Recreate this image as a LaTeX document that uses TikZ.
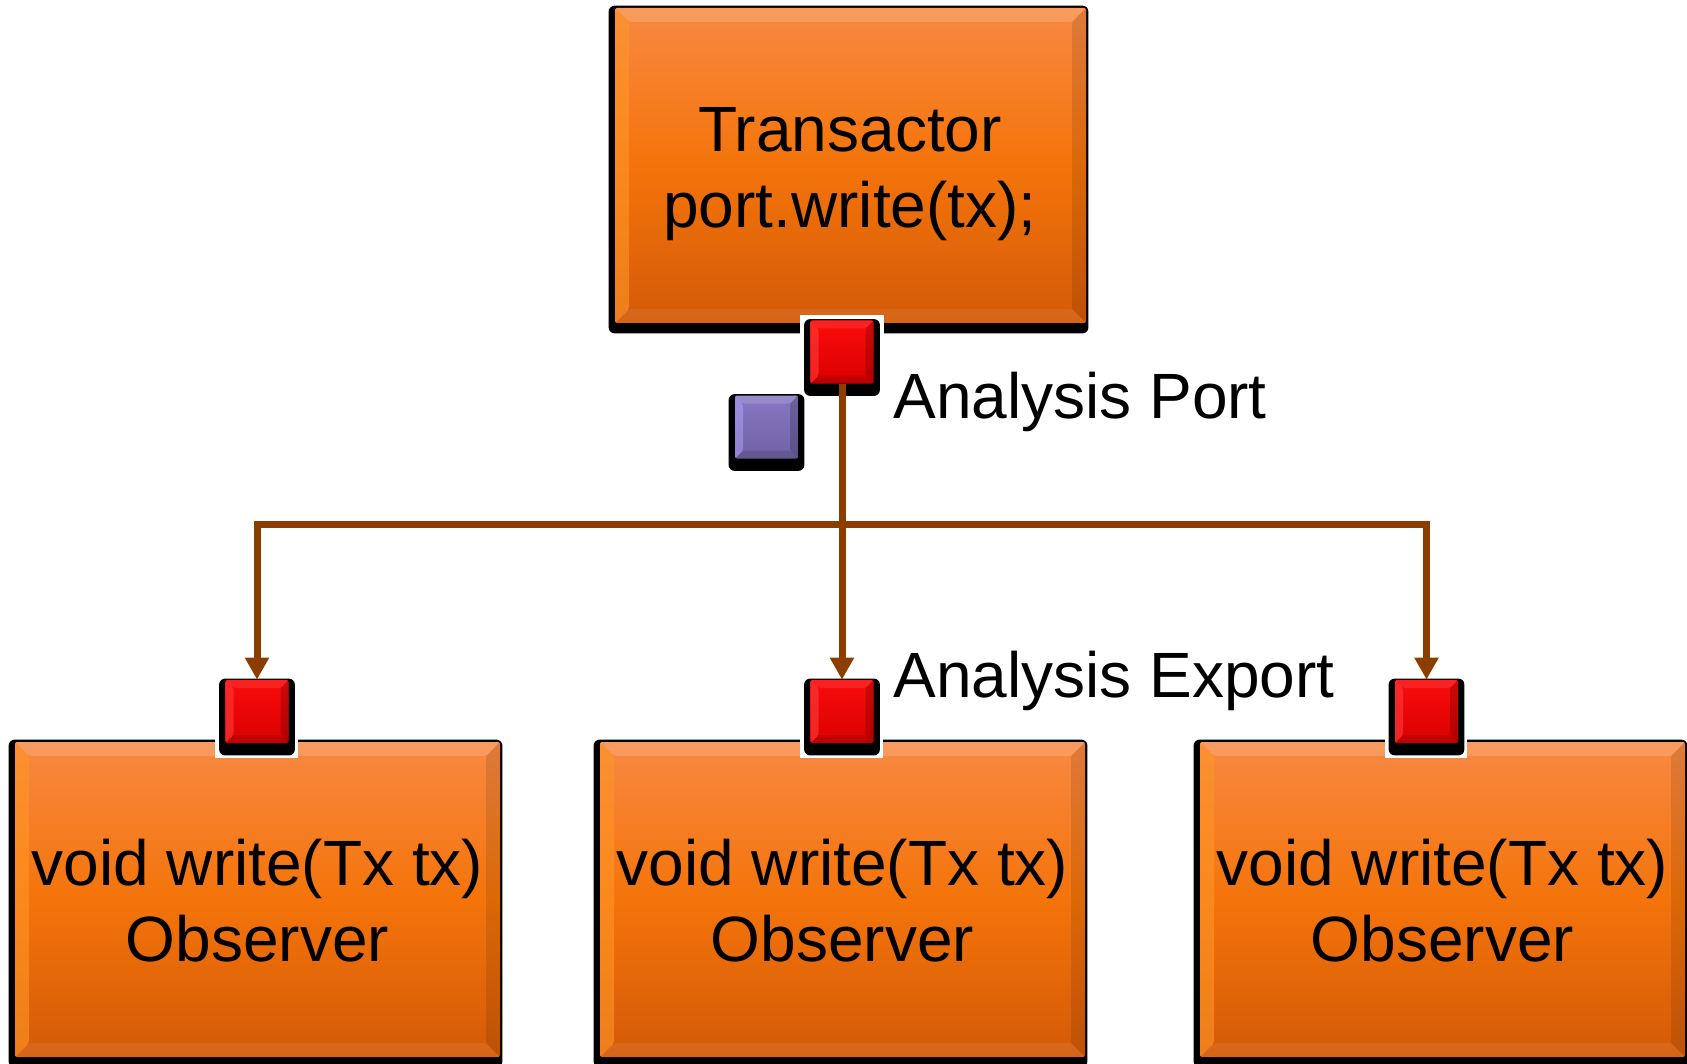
\documentclass[tikz,border=0pt]{standalone}
\usepackage{fontspec}
\setmainfont{Liberation Sans}
\usetikzlibrary{arrows.meta}

\definecolor{boxtop}{RGB}{248,136,66}
\definecolor{boxmid}{RGB}{244,116,10}
\definecolor{boxbot}{RGB}{212,90,8}
\definecolor{boxedge}{RGB}{255,150,40}
\definecolor{redtop}{RGB}{250,12,12}
\definecolor{redbot}{RGB}{218,0,0}
\definecolor{redlight}{RGB}{255,60,60}
\definecolor{purptop}{RGB}{135,120,195}
\definecolor{purpbot}{RGB}{112,98,165}
\definecolor{purplight}{RGB}{170,155,240}
\definecolor{wirebrown}{RGB}{140,62,0}

\pgfdeclarelayer{back}
\pgfdeclarelayer{cut}
\pgfdeclarelayer{pshadow}
\pgfdeclarelayer{front}
\pgfsetlayers{back,main,cut,pshadow,front}

\tikzset{
  % raised edges drawn inside a node
  bevel/.style n args={5}{path picture={
    \fill[#2] (path picture bounding box.north west) -- (path picture bounding box.north east)
      -- ([shift={(-#1,-#1)}]path picture bounding box.north east)
      -- ([shift={(#1,-#1)}]path picture bounding box.north west) -- cycle;
    \fill[#3] (path picture bounding box.north west) -- (path picture bounding box.south west)
      -- ([shift={(#1,#1)}]path picture bounding box.south west)
      -- ([shift={(#1,-#1)}]path picture bounding box.north west) -- cycle;
    \fill[#4] (path picture bounding box.north east) -- (path picture bounding box.south east)
      -- ([shift={(-#1,#1)}]path picture bounding box.south east)
      -- ([shift={(-#1,-#1)}]path picture bounding box.north east) -- cycle;
    \fill[#5] (path picture bounding box.south west) -- (path picture bounding box.south east)
      -- ([shift={(-#1,#1)}]path picture bounding box.south east)
      -- ([shift={(#1,#1)}]path picture bounding box.south west) -- cycle;
  }},
  block/.style={rectangle, rounded corners=1pt, inner sep=0pt,
    minimum height=157.5pt,
    top color=boxtop, bottom color=boxbot, middle color=boxmid,
    bevel={7pt}{white,opacity=.16}{boxedge,opacity=.6}{black,opacity=.1}{white,opacity=.07}},
  blocktext/.style={align=center, inner sep=0pt, font=\fontsize{32pt}{38pt}\selectfont},
  plain/.style={inner sep=0pt, font=\fontsize{32pt}{38pt}\selectfont},
  portbox/.style={rectangle, rounded corners=1pt, inner sep=0pt, minimum size=31.5pt,
    top color=redtop, bottom color=redbot,
    bevel={4pt}{redlight,opacity=.45}{redlight,opacity=.6}{black,opacity=.18}{black,opacity=.12}},
  exportbox/.style={rectangle, rounded corners=1pt, inner sep=0pt, minimum size=31.5pt,
    top color=purptop, bottom color=purpbot,
    bevel={4pt}{white,opacity=.15}{purplight,opacity=.6}{black,opacity=.18}{black,opacity=.12}},
  dropshade/.style={fill=black, rounded corners=3pt},
  cutout/.style={fill=white},
  wire/.style={draw=wirebrown, line width=3.5pt},
  arr/.style={-{Triangle[width=11.5pt,length=11pt]}, wirebrown}
}

\begin{document}
\begin{tikzpicture}[x=0.5pt, y=-0.5pt]
  \useasboundingbox (0,0) rectangle (1687,1064);
  \clip (0,0) rectangle (1687,1064);

  % transactor and observers
  \node[block, minimum width=235.5pt] (tr) at (850.5,165.5) {};
  \node[block, minimum width=242.5pt] (ob1) at (257.5,899.5) {};
  \node[block, minimum width=242.5pt] (ob2) at (842.5,899.5) {};
  \node[block, minimum width=242.5pt] (ob3) at (1442.5,899.5) {};

  \node[blocktext] (trtext) at (850,174) {Transactor\\port.write(tx);};
  \node[blocktext] (ob1text) at (257.5,901) {void write(Tx tx)\\Observer};
  \node[blocktext] (ob2text) at (842.5,901) {void write(Tx tx)\\Observer};
  \node[blocktext] (ob3text) at (1442.5,901) {void write(Tx tx)\\Observer};

  % black drop shapes behind the blocks
  \begin{pgfonlayer}{back}
    \foreach \b in {tr,ob1,ob2,ob3}
      \fill[dropshade]
        ([shift={(-3pt,1pt)}]\b.north west) rectangle ([shift={(1pt,-5pt)}]\b.south east);
  \end{pgfonlayer}

  % ports
  \begin{pgfonlayer}{front}
    \node[portbox] (tp) at (842,352) {};
    \node[portbox] (p1) at (257,711.5) {};
    \node[portbox] (p2) at (842,711.5) {};
    \node[portbox] (p3) at (1426.5,711.5) {};
    \node[exportbox] (pp) at (766.5,427) {};
  \end{pgfonlayer}

  % white gaps cut into the block edges around the ports
  \begin{pgfonlayer}{cut}
    \fill[cutout] ([shift={(-5pt,2.5pt)}]tp.north west) rectangle ([shift={(5pt,-8pt)}]tp.south east);
    \foreach \p in {p1,p2,p3}
      \fill[cutout] ([shift={(-5pt,2pt)}]\p.north west) rectangle ([shift={(4.5pt,-7.5pt)}]\p.south east);
  \end{pgfonlayer}

  % black drop shapes behind the ports
  \begin{pgfonlayer}{pshadow}
    \foreach \p in {tp,p1,p2,p3,pp}
      \fill[dropshade] ([shift={(-3pt,0.5pt)}]\p.north west) rectangle ([shift={(3pt,-6pt)}]\p.south east);
  \end{pgfonlayer}

  % labels
  \node[plain, anchor=base west] (lport) at (893,418) {Analysis Port};
  \node[plain, anchor=base west] (lexport) at (893,697) {Analysis Export};

  % connections
  \coordinate (j) at (842,524);
  \begin{pgfonlayer}{front}
    \draw[wire] (tp.south) -- (j);
    \draw[wire, arr] (j) -- (p2.north);
    \draw[wire, arr] (j) -| (p1.north);
    \draw[wire, arr] (j) -| (p3.north);
  \end{pgfonlayer}
\end{tikzpicture}
\end{document}
